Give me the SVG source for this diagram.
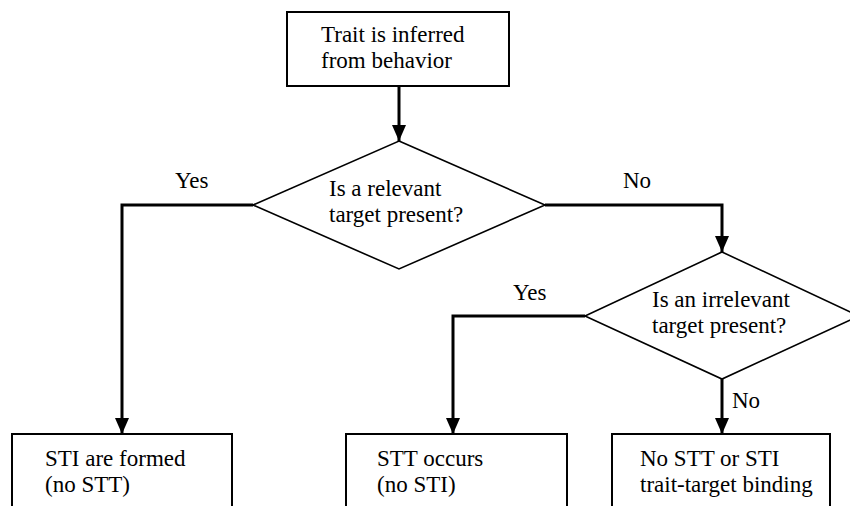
<svg xmlns="http://www.w3.org/2000/svg" width="850" height="506" viewBox="0 0 850 506">
<style>
.box{fill:#fff;stroke:#000;stroke-width:2}
.dia{fill:#fff;stroke:#000;stroke-width:1.6}
text{font-family:'Liberation Serif',Tinos,'Times New Roman',Times,serif;font-size:23px;fill:#000}
.c{fill:none;stroke:#000;stroke-width:3}
</style>
<defs>
<marker id="arr" markerUnits="userSpaceOnUse" markerWidth="16" markerHeight="14" refX="16" refY="7" orient="auto" viewBox="0 0 16 14">
<path d="M0,0 L16,7 L0,14 Z" fill="#000"/>
</marker>
</defs>
<rect width="850" height="506" fill="#fff"/>
<g id="connectors">
<path class="c" d="M399,86 L399,141" marker-end="url(#arr)"/>
<path class="c" d="M253,205 L122,205 L122,434" marker-end="url(#arr)"/>
<path class="c" d="M545,205 L722,205 L722,252" marker-end="url(#arr)"/>
<path class="c" d="M585,316 L453,316 L453,434" marker-end="url(#arr)"/>
<path class="c" d="M722,379 L722,434" marker-end="url(#arr)"/>
<text font-family="Liberation Serif, serif" x="175" y="188">Yes</text>
<text font-family="Liberation Serif, serif" x="623" y="188">No</text>
<text font-family="Liberation Serif, serif" x="513" y="300">Yes</text>
<text font-family="Liberation Serif, serif" x="732" y="408">No</text>
</g>
<g id="start" font-family="Liberation Serif, serif">
<rect class="box" x="287" y="12" width="222" height="74"/>
<text x="321" y="42">Trait is inferred</text>
<text x="321" y="68">from behavior</text>
</g>
<g id="decision1">
<polygon class="dia" points="399,141 545,205 399,269 253,205"/>
<text x="329" y="196">Is a relevant</text>
<text x="329" y="222">target present?</text>
</g>
<g id="decision2">
<polygon class="dia" points="722,252 859,316 722,379 585,316"/>
<text x="652" y="307">Is an irrelevant</text>
<text x="652" y="333">target present?</text>
</g>
<g id="sti">
<rect class="box" x="12" y="434" width="220" height="90"/>
<text x="45" y="466">STI are formed</text>
<text x="45" y="492">(no STT)</text>
</g>
<g id="stt">
<rect class="box" x="346" y="434" width="221" height="90"/>
<text x="377" y="466">STT occurs</text>
<text x="377" y="492">(no STI)</text>
</g>
<g id="none">
<rect class="box" x="612" y="434" width="218" height="90"/>
<text x="640" y="466">No STT or STI</text>
<text x="640" y="492">trait-target binding</text>
</g>
</svg>
